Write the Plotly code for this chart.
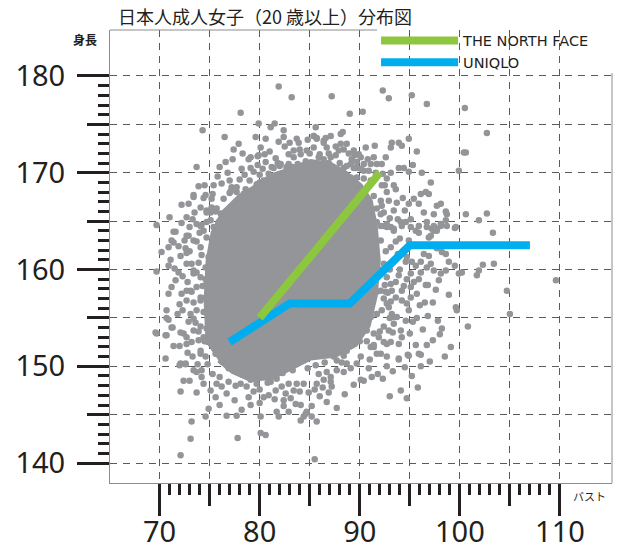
import plotly.graph_objects as go

# ---------------- data ----------------
title_text = "日本人成人女子（20 歳以上）分布図"
x_label = "バスト"
y_label = "身長"

x_major_ticks = [70, 80, 90, 100, 110]
x_mid_ticks = [75, 85, 95, 105]
y_major_ticks = [140, 150, 160, 170, 180]
y_mid_ticks = [145, 155, 165, 175]
x_minor_ticks = [v for v in range(71, 110) if v % 5]
y_minor_ticks = [v for v in range(141, 180) if v % 5]

# size lines
tnf_bust = [80, 92]
tnf_height = [155, 170]
uniqlo_bust = [77, 83, 89, 95, 107]
uniqlo_height = [152.5, 156.5, 156.5, 162.5, 162.5]

# dense core of the cloud (outline of the solid region)
core_bust = [74.8, 74.6, 74.8, 75.3, 76.3, 77.9, 79.6, 81.1, 83.1, 85.1, 87.1, 88.6, 90.1,
             91.1, 91.6, 91.9, 91.6, 90.9, 89.6, 87.6, 85.1, 83.1, 81.3, 79.1, 77.3, 75.9]
core_height = [152.2, 156.8, 160.9, 163.8, 165.9, 167.5, 168.6, 169.7, 170.4, 171.2, 170.9, 170.0, 168.7,
               167.1, 164.5, 160.9, 157.3, 154.2, 152.2, 151.1, 150.8, 149.8, 148.8, 148.6, 149.4, 150.6]

# individual dots (bust, height)
dots_top = [
    (81.9, 178.9), (83.2, 177.8), (78.1, 176.2), (74.3, 174.4), (76.5, 173.7), (79.9, 175.1),
    (81.1, 174.7), (81.5, 175.1), (82.4, 174.4), (79.6, 173.7), (80.6, 173.5), (82.4, 173.7),
    (83.7, 173.5), (85.6, 174.7), (85.4, 173.8), (87.2, 177.9), (89.0, 176.1), (90.3, 176.3),
    (92.3, 178.5), (92.9, 177.7), (95.2, 178.0), (96.7, 177.1), (100.5, 176.7), (102.7, 174.1),
    (88.3, 174.2), (81.9, 173.2), (77.4, 172.4), (77.9, 173.0),
]
dots_upper_left = [
    (73.7, 170.6), (75.8, 169.6), (77.0, 169.2), (78.2, 170.4), (79.1, 170.5), (78.9, 171.4),
    (79.8, 171.7), (80.5, 171.9), (79.8, 170.8), (81.2, 170.6), (81.6, 171.5), (82.5, 172.7),
    (82.9, 171.9), (83.4, 172.3), (84.0, 172.4), (82.0, 170.7), (82.7, 170.6), (83.3, 170.6),
    (80.0, 169.8), (80.9, 169.9), (81.9, 169.6), (77.0, 167.9), (77.7, 168.0), (78.6, 168.3),
    (77.2, 168.5), (78.1, 167.5), (79.1, 167.6), (80.0, 169.0), (80.8, 168.9), (73.4, 167.7),
    (74.6, 167.7), (75.2, 167.3), (72.2, 166.7), (72.9, 166.8), (75.1, 165.9), (75.6, 166.0),
    (76.1, 165.8), (73.3, 165.2), (74.2, 164.6), (74.7, 164.9), (69.7, 164.6), (71.6, 163.9),
    (72.9, 163.5), (77.0, 165.7), (77.7, 165.9), (78.0, 166.4), (79.1, 171.6), (79.9, 171.8),
    (80.6, 171.1), (81.4, 170.5), (82.1, 170.9), (82.7, 170.5), (83.4, 171.6), (84.1, 171.9),
    (84.7, 172.3), (85.4, 172.6), (85.7, 173.6), (86.4, 173.3), (86.7, 172.6), (88.1, 174.0),
    (88.7, 173.0), (89.4, 172.3), (90.1, 171.6), (77.1, 168.1), (77.7, 168.5), (78.4, 167.8),
    (79.1, 167.5), (79.7, 168.8), (80.4, 169.2), (81.1, 168.8), (81.7, 169.2), (82.4, 169.5),
    (83.1, 169.2), (83.7, 169.5), (84.4, 169.4), (85.1, 169.9), (85.7, 170.2), (86.4, 170.4),
    (87.1, 169.9), (87.7, 170.2), (88.4, 170.5), (89.1, 170.9), (89.7, 170.5), (90.4, 170.2),
    (73.4, 167.5), (74.1, 166.4), (74.7, 166.1), (72.7, 165.4), (73.7, 164.7), (75.1, 165.1),
    (75.7, 164.4),
]
dots_upper_right = [
    (100.4, 172.1), (100.6, 172.1), (99.9, 170.2), (95.7, 172.2), (94.9, 173.5), (93.2, 173.1),
    (93.9, 173.1), (94.2, 172.8), (93.1, 172.6), (90.6, 172.6), (91.5, 172.8), (89.9, 171.9),
    (92.6, 171.6), (95.3, 170.8), (93.9, 170.5), (94.4, 170.5), (94.9, 170.1), (93.1, 170.0),
    (96.2, 170.0), (97.1, 169.0), (92.7, 169.4), (92.5, 168.7), (93.6, 168.3), (94.3, 167.4),
    (96.1, 167.8), (96.6, 168.0), (96.9, 167.8), (95.4, 167.3), (95.9, 166.8), (97.7, 166.6),
    (98.1, 166.8), (98.6, 166.0), (98.7, 165.7), (97.4, 165.7), (96.4, 165.9), (100.6, 165.7),
    (102.7, 165.8), (101.9, 165.1), (103.3, 163.8), (99.6, 164.4), (98.6, 165.1), (96.7, 164.9),
    (97.2, 164.2), (97.7, 164.2), (95.9, 163.8), (95.1, 165.2), (94.1, 164.9), (94.6, 164.9),
    (85.4, 173.8), (85.7, 173.5), (86.4, 173.1), (87.1, 173.8), (86.6, 173.6), (88.1, 173.0),
    (88.4, 172.4), (87.9, 172.3), (87.6, 171.8), (87.1, 171.6), (86.4, 171.4), (85.9, 171.6),
    (89.2, 171.4), (89.7, 171.1), (90.4, 170.9), (91.1, 170.9), (91.7, 170.9), (92.2, 170.9),
    (88.7, 170.7), (89.4, 170.5), (90.1, 170.4), (88.4, 169.7), (89.1, 169.5), (89.7, 169.5),
    (90.4, 169.4), (91.1, 169.2), (85.9, 170.5), (86.4, 170.4), (87.1, 170.5), (87.7, 170.4),
    (85.7, 169.7), (86.6, 169.7), (87.2, 169.5), (87.9, 169.4), (88.7, 168.7), (89.4, 168.7),
    (90.1, 168.3), (89.1, 168.0), (92.2, 168.7), (92.7, 168.0), (93.4, 168.7), (91.4, 167.6),
    (92.1, 167.1), (92.9, 167.1), (93.7, 166.9), (91.7, 166.3), (92.4, 165.9), (93.4, 166.1),
    (91.1, 165.4), (91.7, 164.9), (92.4, 164.5), (93.1, 164.4),
]
dots_left = [
    (69.7, 159.8), (71.4, 163.9), (71.1, 161.0), (70.9, 160.4), (71.2, 158.2), (72.0, 156.4),
    (70.7, 155.8), (70.9, 154.8), (71.3, 154.0), (69.7, 153.4), (70.6, 153.2), (71.4, 162.8),
    (71.9, 162.4), (72.6, 162.2), (72.1, 161.4), (72.7, 161.7), (71.2, 163.0), (72.7, 163.5),
    (74.1, 164.5), (74.4, 164.0), (74.7, 165.9), (75.2, 166.4), (75.7, 166.3), (73.7, 162.9),
    (74.1, 162.3), (74.7, 163.3), (75.4, 164.4), (75.8, 163.7), (72.7, 160.6), (73.2, 160.6),
    (72.3, 159.3), (72.8, 158.7), (73.4, 159.6), (73.7, 159.7), (72.2, 157.5), (72.7, 157.8),
    (73.2, 157.7), (73.7, 158.2), (72.7, 156.8), (73.4, 156.6), (74.1, 156.8), (73.1, 155.4),
    (73.7, 155.8), (74.4, 155.6), (72.9, 154.6), (73.6, 154.5), (74.1, 154.1), (74.7, 153.9),
    (74.6, 159.0), (75.0, 158.5), (74.9, 161.3), (75.4, 161.6), (74.6, 160.2), (74.6, 157.1),
    (75.1, 156.1), (73.4, 163.0), (75.4, 162.6), (73.4, 159.9), (74.1, 159.2), (74.7, 158.5),
    (73.1, 157.8), (74.1, 157.1), (75.1, 156.5),
]
dots_lower_left = [
    (69.6, 153.5), (70.6, 150.8), (71.4, 152.1), (72.0, 152.1), (70.7, 153.2), (71.2, 154.0),
    (70.7, 155.0), (72.1, 150.3), (72.6, 150.3), (73.2, 152.5), (73.9, 152.7), (72.4, 153.4),
    (72.7, 153.0), (74.1, 151.3), (74.6, 151.0), (73.4, 149.6), (74.2, 149.6), (72.0, 150.1),
    (72.6, 150.2), (72.4, 148.5), (73.0, 148.5), (72.1, 147.4), (73.7, 147.3), (74.9, 145.6),
    (74.6, 144.8), (73.2, 144.3), (73.1, 142.5), (72.1, 140.8), (76.7, 144.9), (77.7, 144.9),
    (77.8, 142.6), (80.1, 143.1), (80.6, 142.9), (80.1, 144.8), (79.1, 146.0), (81.7, 145.3),
    (81.9, 144.8), (82.4, 145.9), (83.6, 146.1), (84.1, 146.0), (84.6, 145.1), (84.7, 145.3),
    (84.1, 144.4), (84.4, 144.8), (85.2, 144.8), (85.7, 144.3), (85.2, 145.9), (85.5, 140.4),
    (87.7, 145.7), (88.5, 147.1), (87.1, 148.4), (87.2, 147.9), (73.7, 149.4), (74.2, 148.9),
    (74.4, 148.2), (75.1, 147.5), (75.6, 146.8), (75.7, 148.2), (76.2, 147.9), (76.9, 148.4),
    (76.7, 147.2), (78.1, 148.2), (78.7, 147.9), (79.1, 148.6), (79.7, 148.2), (80.4, 146.8),
    (80.9, 147.0), (78.9, 146.8), (82.4, 146.5), (83.1, 146.7), (81.6, 147.5), (82.2, 147.9),
    (82.9, 148.2), (83.7, 148.2), (84.4, 148.2), (81.1, 148.4), (81.7, 148.7), (85.7, 148.2),
    (86.4, 148.6), (87.1, 148.9), (85.9, 149.2), (86.7, 149.4), (87.7, 149.6), (88.4, 149.4),
    (87.7, 150.6), (88.4, 151.1), (88.7, 150.3), (73.4, 153.7), (74.4, 153.0), (75.4, 152.0),
    (74.1, 151.6), (72.7, 152.3), (83.7, 151.3), (85.4, 151.6), (87.1, 152.0), (88.7, 151.6),
    (90.1, 151.0), (91.4, 152.0), (92.7, 152.3),
]
dots_lower_right = [
    (96.7, 152.2), (95.6, 152.2), (99.1, 152.0), (94.8, 151.2), (96.1, 151.2), (93.9, 150.7),
    (92.7, 150.0), (91.8, 149.2), (95.2, 149.0), (94.1, 147.5), (93.0, 146.9), (90.4, 148.5),
    (89.4, 148.1), (91.4, 152.2), (92.1, 151.3), (90.9, 149.8), (90.1, 148.6), (93.1, 152.5),
    (93.9, 152.3), (103.4, 160.6), (102.3, 160.5), (101.9, 159.9), (101.7, 159.4), (104.7, 157.8),
    (105.0, 155.4), (109.6, 158.9), (100.8, 154.1), (99.6, 156.1), (99.7, 155.8), (98.9, 157.4),
    (96.5, 156.6), (95.7, 155.0), (99.9, 159.6), (100.2, 159.7), (99.5, 160.4), (98.9, 160.8),
    (98.1, 164.5), (97.4, 164.0), (96.9, 163.3), (97.7, 162.2), (98.2, 161.8), (98.6, 161.6),
    (96.4, 161.6), (96.9, 161.4), (97.1, 160.6), (96.7, 160.2), (97.4, 159.9), (98.1, 159.6),
    (98.6, 159.9), (97.9, 158.9), (96.1, 159.7), (95.9, 159.0), (96.6, 158.4), (95.4, 158.7),
    (95.1, 159.6), (94.7, 159.0), (95.6, 160.4), (94.6, 160.8), (95.2, 160.8), (95.1, 157.1),
    (94.2, 156.8), (94.7, 156.5), (94.2, 153.0), (93.2, 155.4), (93.7, 155.1), (93.4, 154.4),
    (94.1, 153.7), (92.9, 153.7), (94.9, 151.1), (95.9, 151.3), (91.9, 153.0), (92.4, 152.5),
    (93.1, 156.7), (93.6, 157.1), (92.9, 156.1), (92.6, 157.7), (93.2, 157.8), (94.2, 157.8),
    (95.1, 158.2), (91.1, 152.0), (91.7, 151.3), (92.7, 151.0), (93.9, 150.8), (90.7, 153.7),
    (91.4, 153.4), (90.4, 154.7), (91.1, 155.1), (91.7, 155.4), (90.4, 155.8), (90.1, 156.5),
    (91.1, 157.3), (91.7, 157.7), (92.4, 157.0), (93.1, 158.5), (93.6, 158.7), (94.7, 161.3),
    (96.1, 160.8), (97.1, 163.5), (97.7, 164.0), (92.1, 164.5), (92.7, 164.4), (93.4, 164.2),
    (94.2, 164.5), (95.1, 164.4), (95.9, 164.5), (96.7, 164.4), (97.4, 164.5), (98.1, 164.7),
    (98.7, 164.5), (92.1, 165.7), (92.7, 164.7), (93.4, 164.0), (92.1, 163.0), (93.1, 162.3),
    (91.7, 161.3), (92.4, 160.6), (93.4, 160.9), (91.4, 159.6), (92.7, 159.2), (92.1, 157.8),
    (91.1, 157.1), (92.7, 156.5), (91.7, 155.4), (90.7, 154.7), (92.4, 154.1), (93.4, 155.1),
    (99.5, 164.3),
]
dots_ring = [
    (78.5, 169.8), (79.4, 170.1), (80.3, 170.4), (81.8, 171.0), (82.9, 170.9), (83.8, 170.9),
    (84.6, 171.2), (84.0, 170.5), (85.2, 171.0), (86.0, 171.9), (86.9, 172.0), (87.6, 172.7),
    (88.9, 172.0), (89.5, 171.8), (90.8, 171.4), (91.4, 171.6), (90.9, 170.2), (91.6, 170.0),
    (92.3, 169.9), (88.0, 171.0), (86.9, 171.0), (85.0, 172.0), (83.9, 173.1), (84.8, 173.4),
    (83.0, 173.1), (81.0, 172.2), (80.1, 172.6), (78.3, 172.0), (76.6, 171.1), (77.3, 171.4),
    (76.0, 170.6), (76.8, 170.0), (78.0, 169.3), (79.0, 169.2), (75.4, 168.7), (76.2, 168.9),
    (75.3, 167.8), (76.4, 167.3), (74.5, 168.7), (73.9, 168.6),
    (73.0, 164.4), (72.2, 164.8), (71.0, 165.4), (70.9, 162.3), (71.5, 160.1), (70.2, 161.8),
    (71.9, 159.7), (71.6, 158.9), (70.9, 157.5), (71.8, 155.4), (72.3, 155.8), (72.1, 153.5),
    (73.4, 154.9), (73.9, 153.6), (74.3, 158.3), (73.9, 160.7), (74.2, 161.5), (73.0, 161.9),
    (72.5, 163.0), (74.0, 163.8), (73.5, 165.9), (74.4, 167.4), (75.9, 164.9), (76.5, 164.2),
    (75.0, 160.0), (75.3, 159.1), (74.9, 155.0), (75.4, 155.3), (74.5, 152.6), (75.6, 151.3),
    (76.2, 150.5), (75.3, 149.2), (76.9, 149.8), (76.0, 148.9), (74.8, 150.2), (73.3, 151.0),
    (72.8, 151.4), (73.8, 150.2),
    (77.6, 148.0), (78.3, 149.1), (79.4, 147.4), (80.0, 147.6), (80.8, 148.3), (81.5, 146.6),
    (82.6, 147.2), (83.4, 147.5), (84.0, 147.4), (84.9, 147.3), (85.5, 147.6), (86.3, 147.8),
    (86.0, 146.9), (86.9, 147.3), (84.8, 149.8), (85.6, 150.1), (86.5, 150.4), (87.4, 151.0),
    (88.2, 150.4), (89.1, 149.8), (89.3, 152.4), (90.0, 152.6), (90.7, 152.6), (89.7, 150.3),
    (91.0, 150.7), (82.3, 149.3), (83.3, 149.6), (80.0, 146.2), (77.5, 146.5), (78.2, 145.5),
    (76.0, 146.0), (82.9, 145.3), (86.7, 146.3),
    (92.2, 166.6), (93.0, 165.3), (93.8, 165.2), (94.5, 166.1), (94.9, 166.8), (95.6, 164.0),
    (94.0, 163.2), (94.9, 163.0), (93.6, 162.9), (92.6, 161.9), (93.8, 161.6), (94.4, 162.0),
    (92.0, 160.0), (93.0, 160.0), (94.0, 160.0), (93.9, 159.4), (92.5, 158.4), (94.4, 158.3),
    (92.8, 157.6), (95.7, 157.5), (96.0, 156.3), (94.9, 155.8), (95.3, 154.6), (94.6, 154.7),
    (93.0, 155.0), (92.2, 155.8), (92.0, 153.6), (93.3, 153.5), (95.0, 153.4), (96.3, 153.8),
    (96.8, 155.2), (97.3, 156.6), (97.6, 157.9), (96.8, 158.4), (97.3, 152.7), (98.0, 153.3),
    (97.0, 150.5), (96.1, 150.0), (94.5, 149.9), (93.3, 149.5), (92.3, 148.7), (91.2, 148.9),
    (95.8, 147.8), (94.7, 146.7), (98.5, 151.0), (98.2, 153.9), (97.8, 154.7),
]

# ---------------- styling ----------------
DOT = "#939598"
INK = "#231f20"
GRID = "#5a5a5a"
FRAME = "#8c8c8c"
NUM_FONT = "Noto Sans"
LEG_FONT = "DejaVu Sans"
JP_FONT = "Noto Sans CJK JP"

all_dots = (dots_top + dots_upper_left + dots_upper_right + dots_left
            + dots_lower_left + dots_lower_right + dots_ring)
dot_x = [p[0] for p in all_dots]
dot_y = [p[1] for p in all_dots]

fig = go.Figure()
fig.add_trace(go.Scatter(x=core_bust, y=core_height, mode="lines", fill="toself",
                         fillcolor=DOT, line=dict(color=DOT, width=4),
                         showlegend=False, hoverinfo="skip"))
fig.add_trace(go.Scatter(x=dot_x, y=dot_y, mode="markers",
                         marker=dict(size=6.5, color=DOT, line=dict(width=0)),
                         showlegend=False, hoverinfo="skip"))
fig.add_trace(go.Scatter(x=uniqlo_bust, y=uniqlo_height, mode="lines", name="UNIQLO",
                         line=dict(color="#00aeef", width=8), legendrank=2))
fig.add_trace(go.Scatter(x=tnf_bust, y=tnf_height, mode="lines", name="THE NORTH FACE",
                         line=dict(color="#8dc63f", width=8), legendrank=1))
# helper trace so the overlay axes (mid-length ticks) are drawn
fig.add_trace(go.Scatter(x=[None], y=[None], xaxis="x2", yaxis="y2",
                         showlegend=False, hoverinfo="skip"))

x_range = [65.05, 115.2]
y_range = [137.94, 184.75]
grid_common = dict(showgrid=True, gridcolor=GRID, gridwidth=1, griddash="7px,6px",
                   zeroline=False, automargin=False)

fig.update_layout(
    width=619, height=546,
    margin=dict(l=110, r=7, t=30, b=63),
    plot_bgcolor="white", paper_bgcolor="white",
    title=dict(text=title_text, x=118 / 619, xanchor="left", y=1 - 18 / 546, yanchor="middle",
               font=dict(family=JP_FONT, size=18, color=INK)),
    xaxis=dict(range=x_range, tickmode="array", tickvals=x_major_ticks,
               ticktext=[str(v) for v in x_major_ticks],
               ticks="outside", ticklen=32, tickwidth=3, tickcolor=INK,
               tickfont=dict(family=NUM_FONT, size=29, color=INK),
               ticklabelstandoff=-9,
               showline=True, linecolor=FRAME, linewidth=1,
               minor=dict(tickmode="array", tickvals=x_minor_ticks, ticks="outside",
                          ticklen=11, tickwidth=3, tickcolor=INK, showgrid=False),
               **grid_common),
    yaxis=dict(range=y_range, tickmode="array", tickvals=y_major_ticks,
               ticktext=[str(v) for v in y_major_ticks],
               ticks="outside", ticklen=32, tickwidth=3, tickcolor=INK,
               tickfont=dict(family=NUM_FONT, size=29, color=INK),
               ticklabelstandoff=6,
               showline=True, linecolor=FRAME, linewidth=1,
               minor=dict(tickmode="array", tickvals=y_minor_ticks, ticks="outside",
                          ticklen=11, tickwidth=3, tickcolor=INK, showgrid=False),
               **grid_common),
    xaxis2=dict(overlaying="x", matches="x", side="bottom", tickmode="array",
                tickvals=x_mid_ticks, showticklabels=False, ticks="outside",
                ticklen=22, tickwidth=3, tickcolor=INK, showline=False, **grid_common),
    yaxis2=dict(overlaying="y", matches="y", side="left", tickmode="array",
                tickvals=y_mid_ticks, showticklabels=False, ticks="outside",
                ticklen=22, tickwidth=3, tickcolor=INK, showline=False, **grid_common),
    legend=dict(x=0.530, y=1.012, xanchor="left", yanchor="top", itemwidth=77,
                bgcolor="rgba(0,0,0,0)", font=dict(family=LEG_FONT, size=14.5, color=INK),
                tracegroupgap=0),
    shapes=[
        dict(type="rect", xref="paper", yref="paper", x0=0.532, x1=1.0, y0=0.905, y1=1.0,
             fillcolor="white", line=dict(width=0), layer="between"),
        dict(type="line", xref="paper", yref="paper", x0=0, x1=0.532, y0=1, y1=1,
             line=dict(color=FRAME, width=1)),
        dict(type="line", xref="paper", yref="paper", x0=1, x1=1, y0=0, y1=0.905,
             line=dict(color=FRAME, width=1)),
    ],
    annotations=[
        dict(text=y_label, xref="paper", yref="paper", x=(85.5 - 110) / 501.7, y=(483 - 39) / 453,
             showarrow=False, xanchor="center", yanchor="middle",
             font=dict(family=JP_FONT, size=12, color=INK, weight=700)),
        dict(text=x_label, xref="paper", yref="paper", x=(589 - 110) / 501.7, y=(483 - 496) / 453,
             showarrow=False, xanchor="center", yanchor="middle",
             font=dict(family=JP_FONT, size=11, color=INK)),
    ],
)

# remove the browser's default page margin so the 619x546 figure fills the window exactly
fig.write_html("out.html", config={"displayModeBar": False},
               post_script="document.body.style.margin='0';document.body.style.padding='0';")
